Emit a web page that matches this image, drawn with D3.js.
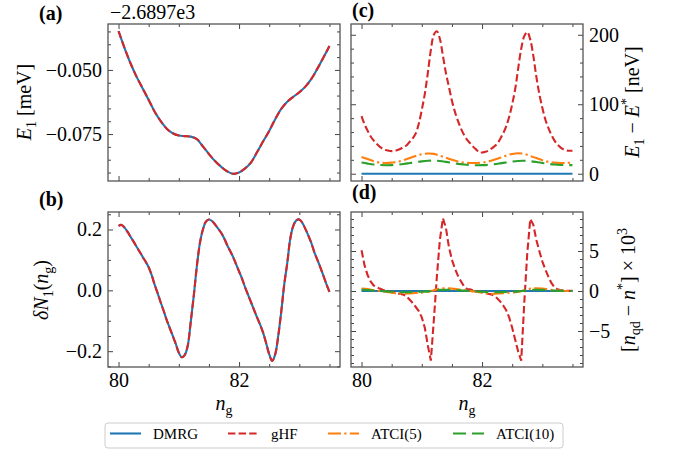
<!DOCTYPE html>
<html>
<head>
<meta charset="utf-8">
<script src="https://cdn.jsdelivr.net/npm/d3@7"></script>
<style>
  body { margin: 0; background: #fff; }
</style>
</head>
<body>
<div id="chart"></div>
<script>
// gate charge grid (coarse for smooth curves, fine for the sharp ones)
const ngCoarse = [80.0, 80.1, 80.2, 80.3, 80.4, 80.5, 80.6, 80.7, 80.8, 80.9,
  81.0, 81.1, 81.2, 81.3, 81.4, 81.5, 81.6, 81.7, 81.8, 81.9,
  82.0, 82.1, 82.2, 82.3, 82.4, 82.5, 82.6, 82.7, 82.8, 82.9,
  83.0, 83.1, 83.2, 83.3, 83.4, 83.5];
const ngFine = [80.00, 80.05, 80.10, 80.15, 80.20, 80.25, 80.30, 80.35, 80.40, 80.45,
  80.50, 80.55, 80.60, 80.65, 80.70, 80.75, 80.80, 80.85, 80.90, 80.95,
  81.00, 81.05, 81.10, 81.15, 81.20, 81.25, 81.30, 81.35, 81.40, 81.45,
  81.50, 81.55, 81.60, 81.65, 81.70, 81.75, 81.80, 81.85, 81.90, 81.95,
  82.00, 82.05, 82.10, 82.15, 82.20, 82.25, 82.30, 82.35, 82.40, 82.45,
  82.50, 82.55, 82.60, 82.65, 82.70, 82.75, 82.80, 82.85, 82.90, 82.95,
  83.00, 83.05, 83.10, 83.15, 83.20, 83.25, 83.30, 83.35, 83.40, 83.45, 83.50];

// (a) E1 [meV] relative to -2.6897e3 (DMRG and gHF coincide)
const e1Values = [-0.0349, -0.0415, -0.0475, -0.0527, -0.0572, -0.0617, -0.0663, -0.0700, -0.0729, -0.0747,
  -0.0756, -0.0758, -0.0760, -0.0770, -0.0798, -0.0828, -0.0855, -0.0877, -0.0895, -0.0905,
  -0.0900, -0.0884, -0.0860, -0.0820, -0.0778, -0.0738, -0.0692, -0.0652, -0.0624, -0.0605,
  -0.0587, -0.0565, -0.0535, -0.0495, -0.0452, -0.0407];

// (b) dN1(ng) on the fine grid (DMRG and gHF coincide)
const dN1Values = [0.212, 0.215, 0.206, 0.192, 0.176, 0.160, 0.143, 0.127, 0.110, 0.094,
  0.076, 0.050, 0.018, -0.010, -0.040, -0.068, -0.098, -0.124, -0.150, -0.176,
  -0.205, -0.220, -0.212, -0.180, -0.100, -0.015, 0.080, 0.155, 0.200, 0.226,
  0.233, 0.228, 0.217, 0.204, 0.190, 0.172, 0.150, 0.130, 0.110, 0.086,
  0.062, 0.038, 0.010, -0.015, -0.040, -0.065, -0.090, -0.113, -0.140, -0.174,
  -0.210, -0.232, -0.210, -0.150, -0.070, 0.020, 0.090, 0.170, 0.212, 0.230,
  0.233, 0.222, 0.202, 0.180, 0.155, 0.125, 0.100, 0.075, 0.048, 0.020, -0.005];

// (c) E1 - E* [neV]
const gapDmrg = [0, 0, 0, 0, 0, 0, 0, 0, 0, 0, 0, 0, 0, 0, 0, 0, 0, 0,
  0, 0, 0, 0, 0, 0, 0, 0, 0, 0, 0, 0, 0, 0, 0, 0, 0, 0];
const gapGhf = [83, 71, 62, 54, 48, 43, 39, 36, 34, 33,
  32.5, 33, 34, 36, 38.5, 41, 46, 51, 58, 72,
  92, 115, 145, 178, 200, 205, 194, 170, 145, 125,
  105, 89, 76, 65, 56, 49, 44, 39, 35, 31,
  30.5, 31.5, 33, 36, 39, 43, 50, 58, 68, 82,
  100, 122, 152, 180, 198, 204, 193, 170, 140, 115,
  95, 78, 66, 56, 48, 42, 38, 35, 33.5, 33, 33];
const gapAtci5 = [24, 21, 18, 16, 15.5, 16, 17, 19.5, 22.5, 25.5,
  28, 29, 28.5, 26, 23, 20, 17.5, 16, 15.5, 15.5,
  16, 17.5, 20, 23, 26, 28.5, 29.5, 28.5, 25.5, 22.5,
  19.5, 17, 16, 15.5, 15.5, 16];
const gapAtci10 = [16, 14.5, 13.2, 12.5, 12.2, 12.4, 13, 14, 15.3, 16.6,
  17.8, 18.6, 18.8, 18.2, 17, 15.6, 14.2, 13.2, 12.5, 12.2,
  12.3, 12.8, 13.7, 14.9, 16.2, 17.5, 18.4, 18.6, 18, 16.8,
  15.4, 14.1, 13.2, 12.6, 12.3, 12.4];

// (d) [n_qd - n*] x 10^3
const densDmrg = [0, 0, 0, 0, 0, 0, 0, 0, 0, 0, 0, 0, 0, 0, 0, 0, 0, 0,
  0, 0, 0, 0, 0, 0, 0, 0, 0, 0, 0, 0, 0, 0, 0, 0, 0, 0];
const densGhf = [5.1, 3.2, 2.0, 1.2, 0.7, 0.46, 0.3, 0.15, 0.05, -0.05,
  -0.12, -0.2, -0.3, -0.38, -0.48, -0.7, -1.1, -1.5, -2.0, -2.5,
  -3.3, -4.6, -6.8, -8.7, -3.6, 1.8, 6.4, 9.1, 7.9, 5.5,
  3.9, 2.8, 1.9, 1.2, 0.6, 0.25, 0.2, 0.1, 0.0, -0.05,
  -0.15, -0.25, -0.35, -0.42, -0.6, -0.9, -1.3, -1.8, -2.4, -3.3,
  -4.6, -6.1, -7.6, -8.7, -1.5, 4.7, 9.0, 8.3, 6.4, 5.0,
  3.7, 2.7, 1.8, 1.0, 0.5, 0.2, 0.12, 0.08, 0.05, 0.03, 0.02];
const densAtci5 = [0.3, 0.25, 0.1, 0.0, -0.1, -0.2, -0.3, -0.35, -0.3, -0.25,
  -0.2, -0.1, 0.1, 0.3, 0.35, 0.3, 0.2, 0.1, 0.0, -0.1,
  -0.2, -0.3, -0.35, -0.3, -0.25, -0.2, -0.1, 0.1, 0.3, 0.35,
  0.3, 0.2, 0.1, 0.05, 0.0, 0.0];
const densAtci10 = [0.15, 0.12, 0.06, 0.0, -0.05, -0.1, -0.14, -0.16, -0.14, -0.12,
  -0.1, -0.05, 0.05, 0.14, 0.16, 0.14, 0.1, 0.05, 0.0, -0.05,
  -0.1, -0.14, -0.16, -0.14, -0.12, -0.1, -0.05, 0.05, 0.14, 0.16,
  0.14, 0.1, 0.05, 0.02, 0.0, 0.0];

// tick values
const xMajorTicks = [80, 82];
const xMinorTicks = [80.5, 81, 81.5, 82.5, 83, 83.5];
const aMajorTicks = [-0.075, -0.050];
const aMinorTicks = [-0.090, -0.085, -0.080, -0.070, -0.065, -0.060, -0.055, -0.045, -0.040, -0.035];
const bMajorTicks = [-0.2, 0, 0.2];
const bMinorTicks = [-0.25, -0.15, -0.1, -0.05, 0.05, 0.1, 0.15, 0.25];
const cMajorTicks = [0, 100, 200];
const cMinorTicks = [20, 40, 60, 80, 120, 140, 160, 180];
const dMajorTicks = [-5, 0, 5];
const dMinorTicks = [-9, -8, -7, -6, -4, -3, -2, -1, 1, 2, 3, 4, 6, 7, 8, 9];

// legend entries
const seriesNames = ["DMRG", "gHF", "ATCI(5)", "ATCI(10)"];
const seriesColors = ["#1f77b4", "#d62728", "#ff7f0e", "#2ca02c"];
const seriesDashes = [null, "7.4,3.2", "13,3.3,2.2,3.3", "13,6"];

const width = 675;
const height = 452;
const lw = 2.1;
const serif = '"Liberation Serif", "Times New Roman", serif';

const svg = d3.select("#chart")
    .append("svg")
    .attr("width", width)
    .attr("height", height);

const xDomain = [79.825, 83.675];

// draw a subplot frame with inward ticks on all sides
function drawPanel(p) {
    const x = d3.scaleLinear().domain(xDomain).range([p.left, p.right]);
    const y = d3.scaleLinear().domain(p.yDomain).range([p.bottom, p.top]);
    const g = svg.append("g");

    const axes = [
        [d3.axisBottom(x), `translate(0,${p.bottom})`, xMajorTicks, xMinorTicks, p.showX, d3.format("d")],
        [d3.axisTop(x), `translate(0,${p.top})`, xMajorTicks, xMinorTicks, false, null],
        [d3.axisLeft(y), `translate(${p.left},0)`, p.yMajor, p.yMinor, p.side === "left", p.yFormat],
        [d3.axisRight(y), `translate(${p.right},0)`, p.yMajor, p.yMinor, p.side === "right", p.yFormat]
    ];
    axes.forEach(([axis, tr, major, minor, labels, fmt]) => {
        g.append("g").attr("transform", tr)
            .call(axis.tickValues(minor).tickSize(-3).tickFormat(""));
        g.append("g").attr("transform", tr)
            .call(axis.tickValues(major).tickSize(-5).tickPadding(labels ? 6 : 0)
                .tickFormat(labels ? fmt : ""));
    });
    g.selectAll(".domain").remove();
    g.selectAll("g").attr("font-family", null).attr("font-size", null);
    g.selectAll(".tick line").attr("stroke", "#444").attr("stroke-width", 1);
    g.selectAll(".tick text")
        .style("font-family", serif)
        .style("font-size", "20px")
        .attr("fill", "#000");

    g.append("rect")
        .attr("x", p.left).attr("y", p.top)
        .attr("width", p.right - p.left).attr("height", p.bottom - p.top)
        .attr("fill", "none")
        .attr("stroke", "#555")
        .attr("stroke-width", 1.3);

    return { x, y, g };
}

function drawLine(panel, xs, ys, idx, curve) {
    const line = d3.line()
        .x(d => panel.x(d[0]))
        .y(d => panel.y(d[1]))
        .curve(curve);
    panel.g.insert("path", "rect")
        .datum(d3.zip(xs, ys))
        .attr("d", line)
        .attr("fill", "none")
        .attr("stroke", seriesColors[idx])
        .attr("stroke-width", lw)
        .attr("stroke-dasharray", seriesDashes[idx]);
}

// write a label made of parts: {t, i (italic), sub, sup}
function mathText(sel, parts, size) {
    let shift = 0;
    parts.forEach(part => {
        let target = 0;
        let fs = size;
        if (part.sub) { target = size * 0.25; fs = size * 0.7; }
        if (part.sup) { target = -size * 0.4; fs = size * 0.7; }
        sel.append("tspan")
            .attr("dy", target - shift)
            .style("font-size", fs + "px")
            .style("font-style", part.i ? "italic" : "normal")
            .text(part.t);
        shift = target;
    });
}

function addLabel(x, y, rotate, parts, size) {
    const t = svg.append("text")
        .attr("transform", `translate(${x},${y}) rotate(${rotate})`)
        .attr("text-anchor", "middle")
        .style("font-family", serif)
        .style("font-size", size + "px")
        .attr("fill", "#000");
    mathText(t, parts, size);
}

const smooth = d3.curveCatmullRom.alpha(0.5);

// panel (a)
const pa = drawPanel({ left: 108, right: 340, top: 24, bottom: 181,
    yDomain: [-0.0933, -0.0321], yMajor: aMajorTicks, yMinor: aMinorTicks,
    side: "left", yFormat: d3.format(".3f"), showX: false });
drawLine(pa, ngCoarse, e1Values, 0, smooth);
drawLine(pa, ngCoarse, e1Values, 1, smooth);

// panel (b)
const pb = drawPanel({ left: 108, right: 340, top: 212, bottom: 367,
    yDomain: [-0.252, 0.2575], yMajor: bMajorTicks, yMinor: bMinorTicks,
    side: "left", yFormat: d3.format(".1f"), showX: true });
drawLine(pb, ngFine, dN1Values, 0, smooth);
drawLine(pb, ngFine, dN1Values, 1, smooth);

// panel (c)
const pc = drawPanel({ left: 351, right: 583, top: 24, bottom: 181,
    yDomain: [-10.5, 215.5], yMajor: cMajorTicks, yMinor: cMinorTicks,
    side: "right", yFormat: d3.format("d"), showX: false });
drawLine(pc, ngCoarse, gapDmrg, 0, smooth);
drawLine(pc, ngFine, gapGhf, 1, smooth);
drawLine(pc, ngCoarse, gapAtci5, 2, smooth);
drawLine(pc, ngCoarse, gapAtci10, 3, smooth);

// panel (d)
const pd = drawPanel({ left: 351, right: 583, top: 212, bottom: 367,
    yDomain: [-9.5, 9.875], yMajor: dMajorTicks, yMinor: dMinorTicks,
    side: "right", yFormat: d3.format("d"), showX: true });
drawLine(pd, ngCoarse, densDmrg, 0, d3.curveLinear);
drawLine(pd, ngFine, densGhf, 1, d3.curveLinear);
drawLine(pd, ngCoarse, densAtci5, 2, smooth);
drawLine(pd, ngCoarse, densAtci10, 3, smooth);

// offset text of panel (a)
svg.append("text")
    .attr("x", 110).attr("y", 19)
    .style("font-family", serif)
    .style("font-size", "20px")
    .text("\u22122.6897e3");

// panel letters
[["(a)", 39, 20], ["(b)", 39, 206], ["(c)", 352, 17], ["(d)", 352, 199]].forEach(([t, x, y]) => {
    svg.append("text")
        .attr("x", x).attr("y", y)
        .style("font-family", serif)
        .style("font-size", "20px")
        .style("font-weight", "bold")
        .text(t);
});

// axis labels
addLabel(31, 102, -90, [{ t: "E", i: true }, { t: "1", sub: true }, { t: " [meV]" }], 20);
addLabel(48, 290, -90, [{ t: "\u03b4N", i: true }, { t: "1", sub: true }, { t: "(" },
    { t: "n", i: true }, { t: "g", sub: true }, { t: ")" }], 20);
addLabel(639, 102, -90, [{ t: "E", i: true }, { t: "1", sub: true }, { t: " \u2212 " },
    { t: "E", i: true }, { t: "*", sup: true }, { t: " [neV]" }], 20);
addLabel(635, 290, -90, [{ t: "[" }, { t: "n", i: true }, { t: "qd", sub: true }, { t: " \u2212 " },
    { t: "n", i: true }, { t: "*", sup: true }, { t: "] \u00d7 10" }, { t: "3", sup: true }], 20);
addLabel(224, 410, 0, [{ t: "n", i: true }, { t: "g", sub: true }], 20);
addLabel(467, 410, 0, [{ t: "n", i: true }, { t: "g", sub: true }], 20);

// legend
const legend = svg.append("g");
legend.append("rect")
    .attr("x", 105).attr("y", 423)
    .attr("width", 458).attr("height", 25)
    .attr("rx", 3)
    .attr("fill", "#fff")
    .attr("stroke", "#ccc");
const legendX = [110, 228, 328, 453];
seriesNames.forEach((name, i) => {
    legend.append("line")
        .attr("x1", legendX[i]).attr("x2", legendX[i] + 31)
        .attr("y1", 433.5).attr("y2", 433.5)
        .attr("stroke", seriesColors[i])
        .attr("stroke-width", lw)
        .attr("stroke-dasharray", seriesDashes[i]);
    legend.append("text")
        .attr("x", legendX[i] + 43).attr("y", 439)
        .style("font-family", serif)
        .style("font-size", "15px")
        .text(name);
});
</script>
</body>
</html>
